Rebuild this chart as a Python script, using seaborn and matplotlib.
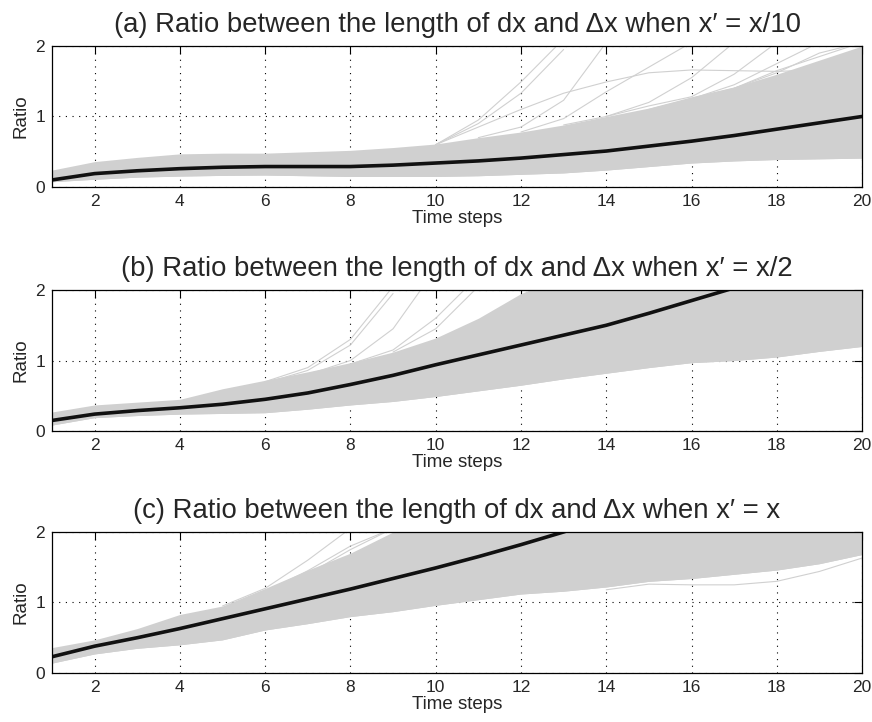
import numpy as np
import pandas as pd
import matplotlib
matplotlib.use("Agg")
import matplotlib.pyplot as plt
import seaborn as sns

# time steps 1..20
steps = list(range(1, 21))

# (a) x' = x/10
mean_a = [0.10, 0.19, 0.23, 0.26, 0.28, 0.29, 0.29, 0.29, 0.31, 0.34,
          0.37, 0.41, 0.46, 0.51, 0.58, 0.65, 0.73, 0.82, 0.91, 1.00]
low_a = [0.075, 0.11, 0.14, 0.155, 0.165, 0.17, 0.16, 0.15, 0.15, 0.15,
         0.16, 0.18, 0.20, 0.24, 0.29, 0.34, 0.37, 0.39, 0.40, 0.41]
high_a = [0.24, 0.36, 0.42, 0.47, 0.48, 0.48, 0.50, 0.52, 0.56, 0.61,
          0.70, 0.78, 0.88, 1.00, 1.12, 1.28, 1.42, 1.60, 1.80, 2.00]
out_a = [
    ([10, 11, 12, 13], [0.60, 0.95, 1.49, 2.10]),
    ([10, 11, 12, 13], [0.60, 0.90, 1.33, 1.95]),
    ([11, 12, 13, 14], [0.70, 0.85, 1.23, 2.05]),
    ([10, 11, 12, 13, 14, 15, 16, 17, 18, 19, 20],
     [0.60, 0.85, 1.10, 1.33, 1.49, 1.62, 1.66, 1.65, 1.64, 1.66, 1.75]),
    ([12, 13, 14, 15, 16], [0.78, 0.97, 1.35, 1.70, 2.05]),
    ([13, 14, 15, 16, 17], [0.88, 1.00, 1.20, 1.55, 2.05]),
    ([14, 15, 16, 17, 18], [1.00, 1.15, 1.28, 1.60, 2.05]),
    ([15, 16, 17, 18, 19], [1.10, 1.25, 1.45, 1.75, 2.05]),
    ([16, 17, 18, 19, 20], [1.25, 1.40, 1.62, 1.90, 2.05]),
    ([17, 18, 19, 20], [1.40, 1.65, 1.85, 2.05]),
]

# (b) x' = x/2
mean_b = [0.15, 0.24, 0.29, 0.33, 0.38, 0.45, 0.54, 0.66, 0.79, 0.94,
          1.08, 1.22, 1.36, 1.50, 1.67, 1.85, 2.03, 2.25, 2.45, 2.65]
low_b = [0.085, 0.19, 0.22, 0.24, 0.25, 0.26, 0.31, 0.37, 0.42, 0.49,
         0.57, 0.65, 0.74, 0.82, 0.90, 0.97, 1.00, 1.05, 1.13, 1.20]
high_b = [0.27, 0.37, 0.41, 0.45, 0.60, 0.72, 0.84, 0.97, 1.12, 1.32,
          1.60, 1.95, 2.20, 2.40, 2.60, 2.80, 3.00, 3.20, 3.40, 3.60]
out_b = [
    ([6, 7, 8, 9], [0.70, 0.90, 1.30, 2.05]),
    ([6, 7, 8, 9], [0.68, 0.86, 1.22, 1.95]),
    ([7, 8, 9, 10], [0.80, 1.00, 1.45, 2.30]),
    ([8, 9, 10, 11], [0.95, 1.15, 1.60, 2.20]),
    ([9, 10, 11], [1.12, 1.45, 2.05]),
]

# (c) x' = x
mean_c = [0.23, 0.38, 0.50, 0.63, 0.77, 0.91, 1.05, 1.19, 1.34, 1.49,
          1.65, 1.82, 2.00, 2.20, 2.40, 2.60, 2.80, 3.00, 3.20, 3.40]
low_c = [0.14, 0.27, 0.35, 0.40, 0.47, 0.61, 0.70, 0.80, 0.87, 0.96,
         1.04, 1.12, 1.16, 1.22, 1.30, 1.34, 1.40, 1.46, 1.55, 1.68]
high_c = [0.36, 0.47, 0.63, 0.83, 0.95, 1.20, 1.46, 1.70, 2.00, 2.30,
          2.50, 2.70, 2.90, 3.10, 3.30, 3.50, 3.70, 3.90, 4.10, 4.30]
out_c = [
    ([5, 6, 7, 8], [0.95, 1.20, 1.60, 2.05]),
    ([6, 7, 8, 9], [1.15, 1.45, 1.80, 2.05]),
    ([7, 8, 9], [1.40, 1.75, 2.05]),
    ([14, 15, 16, 17, 18, 19, 20], [1.18, 1.26, 1.25, 1.25, 1.30, 1.44, 1.63]),
]

titles = [
    "(a) Ratio between the length of dx and \u0394x when x\u2032 = x/10",
    "(b) Ratio between the length of dx and \u0394x when x\u2032 = x/2",
    "(c) Ratio between the length of dx and \u0394x when x\u2032 = x",
]

sns.set_style("white")
plt.rcParams["font.family"] = ["Liberation Sans", "DejaVu Sans"]

gray = "#d0d0d0"
fig = plt.figure(figsize=(8.72, 7.22), dpi=100)
boxes = [0.741, 0.403, 0.0679]
panels = [(mean_a, low_a, high_a, out_a), (mean_b, low_b, high_b, out_b),
          (mean_c, low_c, high_c, out_c)]

for i, (mean, low, high, outs) in enumerate(panels):
    ax = fig.add_axes([0.0596, boxes[i], 0.929, 0.1953])
    ax.fill_between(steps, low, high, color=gray, lw=0)
    rows = []
    for k, (xs, ys) in enumerate(outs):
        for x, y in zip(xs, ys):
            rows.append({"line": k, "step": x, "ratio": y})
    df = pd.DataFrame(rows)
    sns.lineplot(data=df, x="step", y="ratio", units="line", estimator=None,
                 color=gray, lw=0.8, ax=ax)
    sns.lineplot(x=steps, y=low, color=gray, lw=0.8, ax=ax)
    sns.lineplot(x=steps, y=mean, color="#111111", lw=2.6, ax=ax)

    ax.set_xlim(1, 20)
    ax.set_ylim(0, 2)
    ax.set_xticks(range(2, 21, 2))
    ax.set_yticks([0, 1, 2])
    ax.grid(True, color="black", linestyle=(0, (1, 5)), lw=0.8)
    ax.tick_params(direction="in", length=6, width=0.8, labelsize=12.5,
                   top=True, right=True, pad=5, color="black")
    for s in ax.spines.values():
        s.set_color("black")
        s.set_linewidth(0.9)
    ax.set_xlabel("Time steps", fontsize=13.5, labelpad=1)
    ax.set_ylabel("Ratio", fontsize=13.5, labelpad=4)
    ax.set_title(titles[i], fontsize=19.8, pad=10)

fig.savefig("out.png", dpi=100)
